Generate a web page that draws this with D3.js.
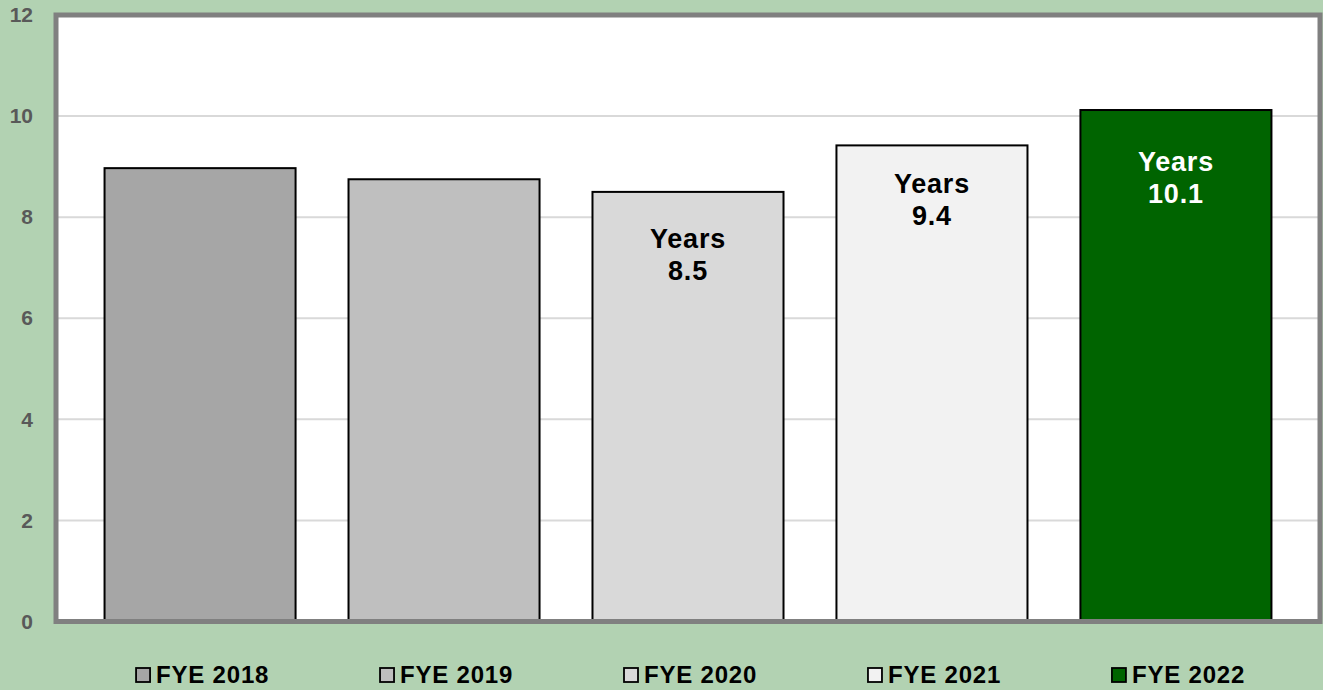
<!DOCTYPE html>
<html>
<head>
<meta charset="utf-8">
<script src="https://cdn.jsdelivr.net/npm/d3@7"></script>
<style>
  html, body { margin: 0; padding: 0; background: #B2D2B2; }
  svg { display: block; }
</style>
</head>
<body>
<div id="chart"></div>
<script>
// data
const categories = ["FYE 2018", "FYE 2019", "FYE 2020", "FYE 2021", "FYE 2022"];
const values = [8.97, 8.75, 8.5, 9.42, 10.12];
const labels = [null, null, "8.5", "9.4", "10.1"];
const yTicks = [0, 2, 4, 6, 8, 10, 12];

// styling
const colors = ["#A6A6A6", "#BFBFBF", "#D9D9D9", "#F2F2F2", "#006400"];
const labelColors = ["#000", "#000", "#000", "#000", "#fff"];
const labelShift = [0, 0, 56, 48, 61];   // baseline of first line below bar top

const W = 1323, H = 690;
const Plot = {LEFT: 56, RIGHT: 1320, TOP: 15, BOTTOM: 621.5};
const FONT = "Liberation Sans, Arial, sans-serif";

const svg = d3.select("#chart")
  .append("svg")
    .attr("width", W)
    .attr("height", H);

const x = d3.scaleBand()
  .domain(categories)
  .range([Plot.LEFT, Plot.RIGHT])
  .paddingInner(0.217)
  .paddingOuter(0.199);

const y = d3.scaleLinear()
  .domain([0, 12])
  .range([Plot.BOTTOM, Plot.TOP]);

// plot background
svg.append("rect")
  .attr("x", Plot.LEFT)
  .attr("y", Plot.TOP)
  .attr("width", Plot.RIGHT - Plot.LEFT)
  .attr("height", Plot.BOTTOM - Plot.TOP)
  .attr("fill", "#fff");

// gridlines
svg.append("g")
  .selectAll("line")
  .data(yTicks.filter(d => d > 0 && d < 12))
  .join("line")
    .attr("x1", Plot.LEFT)
    .attr("x2", Plot.RIGHT)
    .attr("y1", d => y(d))
    .attr("y2", d => y(d))
    .attr("stroke", "#D9D9D9")
    .attr("stroke-width", 2);

// y axis labels
const yAxis = d3.axisLeft(y).tickValues(yTicks).tickSize(0).tickPadding(0);
const gy = svg.append("g")
  .attr("transform", `translate(33,0)`)
  .call(yAxis);
gy.select(".domain").remove();
gy.selectAll("text")
  .attr("font-family", FONT)
  .attr("font-size", 21)
  .attr("font-weight", "bold")
  .attr("fill", "#595959");

// bars
svg.append("g")
  .selectAll("rect")
  .data(categories)
  .join("rect")
    .attr("x", d => x(d))
    .attr("y", (d, i) => y(values[i]))
    .attr("width", x.bandwidth())
    .attr("height", (d, i) => y(0) - y(values[i]))
    .attr("fill", (d, i) => colors[i])
    .attr("stroke", "#000")
    .attr("stroke-width", 2);

// bar labels
const lab = svg.append("g")
  .selectAll("text")
  .data(categories.map((c, i) => ({c, i})).filter(d => labels[d.i]))
  .join("text")
    .attr("x", d => x(d.c) + x.bandwidth() / 2)
    .attr("y", d => y(values[d.i]) + labelShift[d.i])
    .attr("text-anchor", "middle")
    .attr("font-family", FONT)
    .attr("font-size", 27)
    .attr("font-weight", "bold")
    .attr("letter-spacing", 0.8)
    .attr("fill", d => labelColors[d.i]);
lab.append("tspan").text("Years");
lab.append("tspan")
  .attr("x", d => x(d.c) + x.bandwidth() / 2)
  .attr("dy", 32)
  .text(d => labels[d.i]);

// plot frame
svg.append("rect")
  .attr("x", Plot.LEFT)
  .attr("y", Plot.TOP)
  .attr("width", Plot.RIGHT - Plot.LEFT)
  .attr("height", Plot.BOTTOM - Plot.TOP)
  .attr("fill", "none")
  .attr("stroke", "#808080")
  .attr("stroke-width", 5);

// legend
const leg = svg.append("g")
  .selectAll("g")
  .data(categories)
  .join("g")
    .attr("transform", d => `translate(${x(d) + x.bandwidth() / 2 - 65},0)`);
leg.append("rect")
  .attr("x", 1)
  .attr("y", 668)
  .attr("width", 14)
  .attr("height", 14)
  .attr("fill", (d, i) => colors[i])
  .attr("stroke", "#000")
  .attr("stroke-width", 1.8);
leg.append("text")
  .attr("x", 21)
  .attr("y", 683)
  .attr("font-family", FONT)
  .attr("font-size", 24)
  .attr("font-weight", "bold")
  .attr("letter-spacing", 0.8)
  .attr("fill", "#000")
  .text(d => d);
</script>
</body>
</html>
